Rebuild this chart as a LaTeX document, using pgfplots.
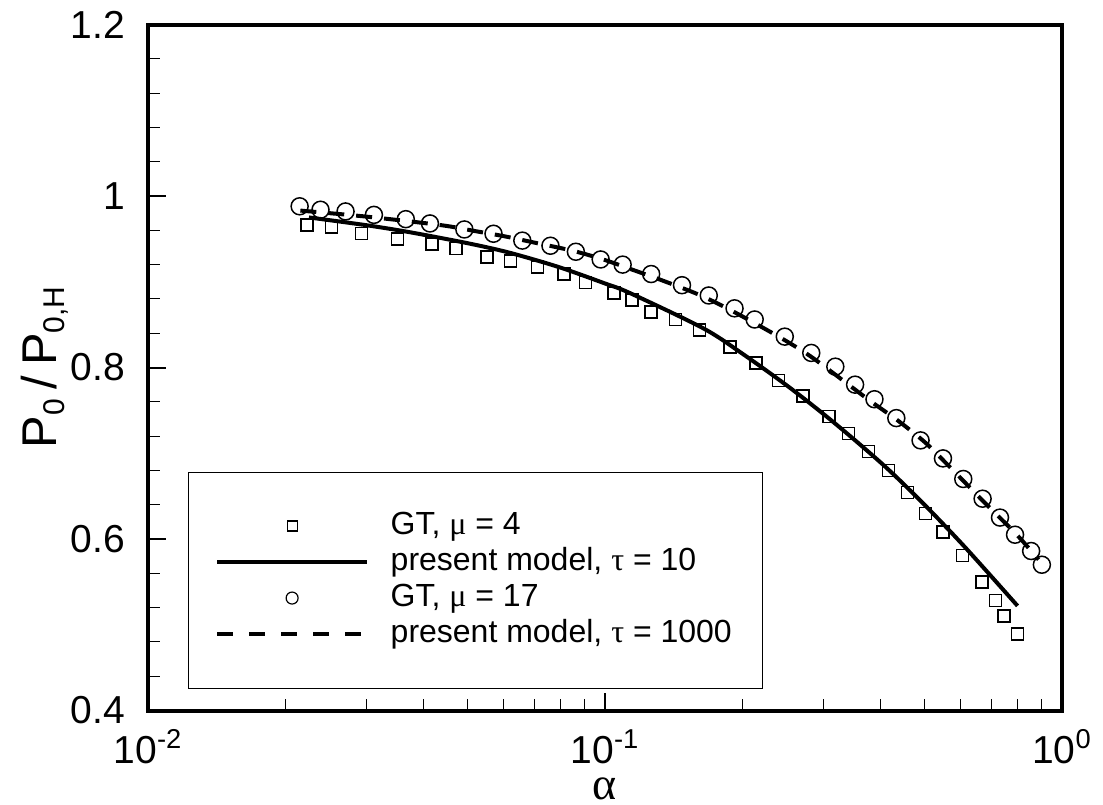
\documentclass[border=0pt]{standalone}
\usepackage{fontspec}
\setmainfont{Liberation Sans}
\newfontfamily\grk{Liberation Serif}
\usepackage{pgfplots}
\pgfplotsset{compat=1.18}
\newcommand{\sub}[1]{\raisebox{-4pt}{\fontsize{15}{16}\selectfont #1}}

\begin{document}
\begin{tikzpicture}
\useasboundingbox (-74pt,-47pt) rectangle (477.5pt,355.25pt);
\begin{axis}[
  at={(0,0)}, anchor=south west,
  scale only axis, width=457pt, height=343pt,
  xmode=log, xmin=0.01, xmax=1, ymin=0.4, ymax=1.2,
  xtick={0.01,0.1,1},
  xticklabels={10\textsuperscript{-2},10\textsuperscript{-1},10\textsuperscript{0}},
  minor xtick={0.02,0.03,0.04,0.05,0.06,0.07,0.08,0.09,0.2,0.3,0.4,0.5,0.6,0.7,0.8,0.9},
  ytick={0.4,0.6,0.8,1,1.2},
  yticklabels={0.4,0.6,0.8,1,1.2},
  minor ytick={0.44,0.48,0.52,0.56,0.64,0.68,0.72,0.76,0.84,0.88,0.92,0.96,1.04,1.08,1.12,1.16},
  tick pos=left, tick align=inside,
  axis line style={line width=2pt},
  major tick length=9pt, minor tick length=6pt,
  every major tick/.style={black, line width=1pt},
  every minor tick/.style={black, line width=0.5pt},
  tick label style={font=\fontsize{19.5}{22}\selectfont},
  xticklabel style={yshift=-6pt},
  yticklabel style={xshift=-8pt},
  xlabel={\grk α},
  ylabel={P\sub{0}\hspace{5pt}/\hspace{5pt}P\sub{0,H}},
  xlabel style={font=\fontsize{23}{25}\selectfont, inner sep=1pt, at={(axis description cs:0.5,-0.1145)}, anchor=center},
  ylabel style={font=\fontsize{24.4}{27}\selectfont, at={(axis description cs:-0.1127,0.5)}, anchor=center},
  legend cell align=left,
  legend style={at={(0.0438,0.032)}, anchor=south west, draw=black, line width=0.5pt,
    font=\fontsize{16}{18}\selectfont, inner xsep=13.5pt, inner ysep=18pt, row sep=0pt,
    nodes={text height=11pt, text depth=3pt},
    /tikz/every odd column/.append style={column sep=9pt}},
]
\addplot[only marks, mark=square, mark size=3pt, mark options={line width=0.75pt, fill=none},
  legend image code/.code={\path[draw=none] (0pt,0pt) -- (75pt,0pt); \draw[solid, line width=0.6pt] (35pt,-2.5pt) rectangle (40pt,2.5pt);}]
  table[row sep=\\] {
x y\\
0.02228 0.966\\
0.02521 0.964\\
0.02935 0.956\\
0.03513 0.950\\
0.04182 0.944\\
0.04722 0.939\\
0.05512 0.929\\
0.06215 0.924\\
0.07115 0.917\\
0.08127 0.909\\
0.09071 0.899\\
0.1047 0.887\\
0.1145 0.879\\
0.1262 0.865\\
0.1425 0.856\\
0.1609 0.844\\
0.1876 0.824\\
0.2140 0.805\\
0.2397 0.785\\
0.2710 0.767\\
0.3091 0.743\\
0.3412 0.723\\
0.3772 0.702\\
0.4168 0.680\\
0.4595 0.654\\
0.5030 0.630\\
0.5495 0.608\\
0.6058 0.581\\
0.6679 0.550\\
0.7150 0.528\\
0.7468 0.510\\
0.7991 0.489\\
};
\addlegendentry{GT, {\grk μ} = 4}
\addplot[line width=2pt, smooth,
  legend image code/.code={\draw[solid, line width=1.6pt] (0pt,0pt) -- (75pt,0pt);}]
  table[row sep=\\] {
x y\\
0.0225 0.975\\
0.03 0.966\\
0.0372 0.958\\
0.05 0.945\\
0.0617 0.934\\
0.0794 0.917\\
0.1 0.898\\
0.1132 0.887\\
0.1637 0.846\\
0.2 0.816\\
0.2544 0.776\\
0.32 0.734\\
0.4092 0.685\\
0.5 0.640\\
0.6146 0.590\\
0.7995 0.522\\
};
\addlegendentry{present model, {\grk τ} = 10}
\addplot[only marks, mark=o, mark size=4.25pt, mark options={line width=0.75pt, fill=none},
  legend image code/.code={\path[draw=none] (0pt,0pt) -- (75pt,0pt); \draw[solid, line width=0.6pt] (37.5pt,0pt) circle (3pt);}]
  table[row sep=\\] {
x y\\
0.02147 0.988\\
0.02385 0.984\\
0.02706 0.982\\
0.03122 0.978\\
0.03666 0.973\\
0.04140 0.968\\
0.04924 0.961\\
0.05702 0.956\\
0.06594 0.948\\
0.07598 0.942\\
0.08636 0.935\\
0.09784 0.926\\
0.1093 0.920\\
0.1262 0.909\\
0.1474 0.896\\
0.1687 0.884\\
0.1921 0.869\\
0.2126 0.856\\
0.2474 0.836\\
0.2827 0.817\\
0.3192 0.801\\
0.3526 0.780\\
0.3888 0.763\\
0.4340 0.741\\
0.4904 0.715\\
0.5490 0.694\\
0.6081 0.670\\
0.6704 0.647\\
0.7318 0.625\\
0.7895 0.605\\
0.8561 0.586\\
0.9036 0.570\\
};
\addlegendentry{GT, {\grk μ} = 17}
\addplot[line width=2pt, smooth, dash pattern=on 8pt off 6pt,
  legend image code/.code={\draw[line width=1.6pt, dash pattern=on 8pt off 8pt] (0pt,0pt) -- (75pt,0pt);}]
  table[row sep=\\] {
x y\\
0.02155 0.983\\
0.03 0.976\\
0.0438 0.966\\
0.0521 0.959\\
0.0603 0.953\\
0.0696 0.946\\
0.0852 0.936\\
0.0991 0.926\\
0.1135 0.915\\
0.1343 0.901\\
0.1604 0.885\\
0.1851 0.869\\
0.2155 0.850\\
0.2508 0.830\\
0.2870 0.810\\
0.3761 0.763\\
0.4377 0.738\\
0.5008 0.713\\
0.5539 0.690\\
0.6182 0.664\\
0.6842 0.640\\
0.7964 0.605\\
0.8887 0.576\\
};
\addlegendentry{present model, {\grk τ} = 1000}
\end{axis}
\end{tikzpicture}
\end{document}
